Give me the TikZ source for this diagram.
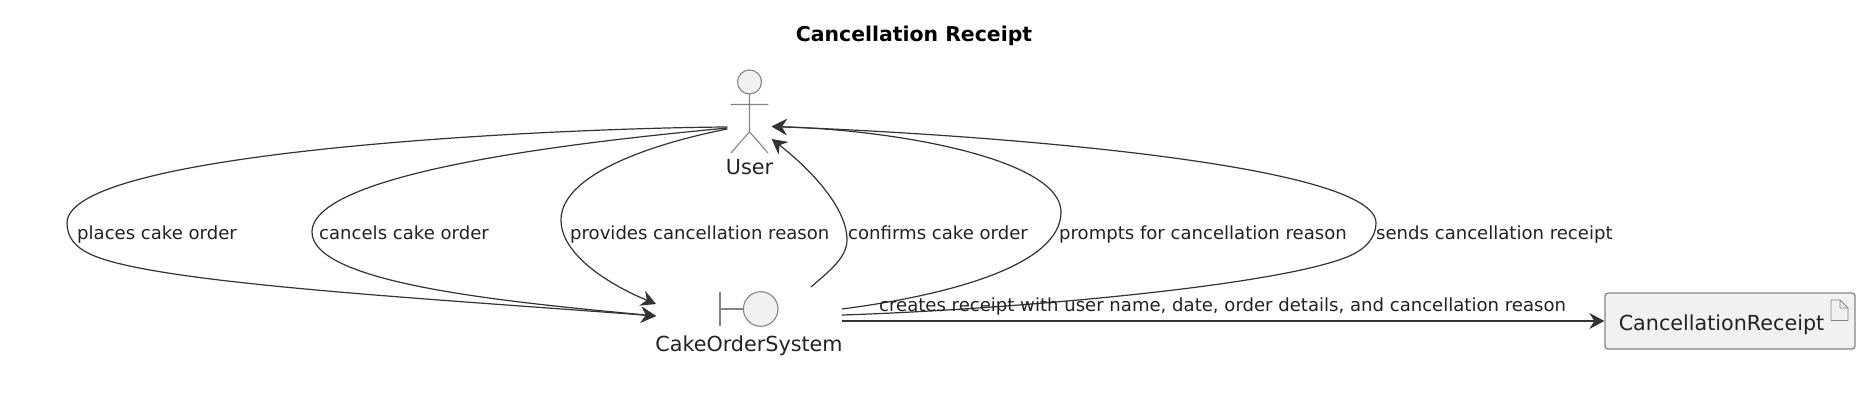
\documentclass[tikz,border=0pt]{standalone}
\usepackage{fontspec}
\setmainfont{DejaVu Sans}
\usetikzlibrary{arrows.meta}
\definecolor{ink}{HTML}{222222}
\definecolor{edgeink}{HTML}{333333}
\definecolor{shapeink}{HTML}{858585}
\definecolor{shapefill}{HTML}{F1F1F1}
\tikzset{
  fig/.style={draw=shapeink,line width=1.1pt},
  figfill/.style={fig,fill=shapefill},
  flow/.style={draw=edgeink,line width=1.2pt,-{Stealth[length=15pt,width=16pt,inset=5pt]}},
  edgelabel/.style={anchor=base west,inner sep=0pt,text=ink,font=\fontsize{18.07}{22}\selectfont},
  namelabel/.style={anchor=base,inner sep=0pt,text=ink,font=\fontsize{20.7}{25}\selectfont},
  hull/.style={inner sep=0pt,draw=none}
}
\begin{document}
\begin{tikzpicture}[x=1pt,y=-1pt]
\useasboundingbox (0,0) rectangle (1862,408);
\node[anchor=base,inner sep=0pt,text=black,font=\bfseries\fontsize{20.4}{24}\selectfont] (title) at (914,41) {Cancellation Receipt};
% actor
\node[hull,minimum width=44pt,minimum height=85pt] (user) at (749.5,112) {};
\draw[figfill] (749.5,82) circle[radius=12];
\draw[fig] (749.5,94) -- (749.5,131.7) -- (731,153) (749.5,131.7) -- (768,153) (730.7,104.5) -- (768.3,104.5);
\node[namelabel] (userlabel) at (749.5,174.5) {User};
% boundary
\node[hull,minimum width=185.5pt,minimum height=60pt] (sys) at (749,322) {};
\draw[fig] (720,291.7) -- (720,326) (720,309) -- (743.4,309);
\draw[figfill] (760.7,309) circle[radius=17.3];
\node[namelabel] (syslabel) at (749,351) {CakeOrderSystem};
% artifact
\node[draw=shapeink,fill=shapefill,line width=1.3pt,rounded corners=3pt,minimum width=250pt,minimum height=56pt,inner sep=0pt] (receipt) at (1730,321) {};
\node[namelabel,anchor=base] (receiptlabel) at (1721.5,330.5) {CancellationReceipt};
\draw[fig,line width=.9pt] (1831,300) -- (1840,300) -- (1848,308) -- (1848,320.5) -- (1831,320.5) -- cycle (1840,300) -- (1840,308) -- (1848,308);
% ports
\coordinate (uOutA) at ([yshift=-15pt]user.west);
\coordinate (uOutB) at ([yshift=-16pt]user.west);
\coordinate (uOutC) at ([yshift=-17pt]user.west);
\coordinate (uInA) at ([yshift=-14.5pt]user.east);
\coordinate (uInB) at ([yshift=-27pt]user.east);
\coordinate (sInA) at ([yshift=6pt]sys.west);
\coordinate (sInB) at ([yshift=18pt]sys.west);
\coordinate (sOutA) at ([yshift=13pt]sys.east);
\coordinate (sOutB) at ([yshift=7pt]sys.east);
\coordinate (sOutC) at ([yshift=1pt]sys.east);
\coordinate (sOutD) at ([xshift=-31pt,yshift=35pt]sys.east);
% edges
\draw[flow] (uOutA) .. controls (560,128) and (67,150) .. (67,223) .. controls (67,237) and (75,247) .. (90,254) .. controls (150,283) and (420,298) .. (sInA);
\draw[flow] (uOutB) .. controls (600,140) and (312,170) .. (312,232) .. controls (312,285) and (520,303) .. (sInA);
\draw[flow] (uOutC) .. controls (670,140) and (561,170) .. (561,220) .. controls (561,255) and (610,285) .. (sInB);
\draw[flow] (sOutD) .. controls (828,272) and (847,258) .. (847,240) .. controls (847,205) and (805,165) .. (uInB);
\draw[flow] (sOutA) .. controls (950,295) and (1061,265) .. (1061,212) .. controls (1061,160) and (900,130) .. (uInA);
\draw[flow] (sOutB) .. controls (1000,310) and (1272,287) .. (1347,257) .. controls (1365,249.8) and (1376,238) .. (1376,223) .. controls (1376,165) and (1000,135) .. (uInA);
\draw[flow] (sOutC) -- (receipt.west);
% labels
\node[edgelabel] (l1) at (77,239) {places cake order};
\node[edgelabel] (l2) at (319,239) {cancels cake order};
\node[edgelabel] (l3) at (570,239) {provides cancellation reason};
\node[edgelabel] (l4) at (848,239) {confirms cake order};
\node[edgelabel] (l5) at (1059,239) {prompts for cancellation reason};
\node[edgelabel] (l6) at (1376,239) {sends cancellation receipt};
\node[edgelabel] (l7) at (879,311) {creates receipt with user name, date, order details, and cancellation reason};
\end{tikzpicture}
\end{document}
